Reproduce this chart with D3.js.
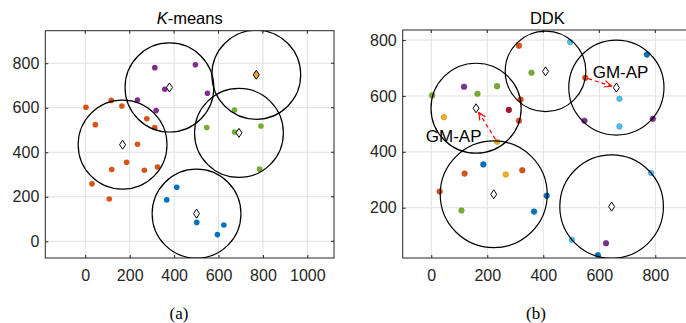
<!DOCTYPE html>
<html>
<head>
<meta charset="utf-8">
<script src="https://cdn.jsdelivr.net/npm/d3@7"></script>
<style>
  body { margin: 0; background: #fff; }
  svg { display: block; font-family: "Liberation Sans", Arial, sans-serif; }
  .grid line { stroke: #e0e0e0; stroke-width: 1; }
  .tick text { fill: #262626; }
</style>
</head>
<body>
<svg id="chart" width="686" height="323"></svg>
<script>
// shared point set (same 30 points in both panels)
const ptsX = [3, 117, 165, 45, 277, 313, 235, 186, 119, 266, 325, 30, 108,
  313, 496, 358, 550, 235, 319, 672, 547, 672, 791, 785, 770, 412, 367, 502, 624, 595];
const ptsY = [602, 633, 608, 524, 550, 511, 436, 355, 322, 319, 334, 258, 190,
  780, 793, 683, 665, 635, 587, 590, 511, 491, 518, 324, 748, 243, 186, 85, 73, 30];

// cluster labels (index into palette)
const kmLabel = [1,1,1,1,1,1,1,1,1,1,1,1,1, 3,3,3,3,3,3, 4,4,4,4,4, 2, 0,0,0,0,0];
const ddkLabel = [4,3,4,2,6,1,2,0,1,2,1,1,4, 1,5,4,1,4,1, 5,3,5,3,5, 0, 0,0,5,3,0];

// K-means centroids
const kmCx = [501, 168, 770, 379, 692];
const kmCy = [124, 434, 748, 691, 487];
const kmR = [200, 200, 200, 200, 200];

// DDK centers and radii
const ddkCx = [160, 408, 661, 223, 644];
const ddkCy = [556, 688, 630, 248, 204];
const ddkR = [161, 144, 170, 191, 185];

// GM-AP arrows: [point index, center index]
const arrows = [[16, 2], [6, 0]];
const arrowLabels = ["GM-AP", "GM-AP"];
const labelX = [676, 80];
const labelY = [663, 436];

const kmXTicks = [0, 200, 400, 600, 800, 1000];
const kmYTicks = [0, 200, 400, 600, 800];
const ddkXTicks = [0, 200, 400, 600, 800];
const ddkYTicks = [200, 400, 600, 800];

const palette = ['#0072BD', '#D95319', '#EDB120', '#7E2F8E', '#77AC30', '#4DBEEE', '#A2142F'];

const svg = d3.select('#chart');
const axisColor = '#262626';

function panel(opts) {
  const x = d3.scaleLinear().domain(opts.xDom).range([opts.left, opts.right]);
  const y = d3.scaleLinear().domain(opts.yDom).range([opts.bottom, opts.top]);
  const g = svg.append('g');

  const clipId = 'clip-' + opts.id;
  svg.append('defs').append('clipPath').attr('id', clipId)
    .append('rect')
    .attr('x', opts.left).attr('y', opts.top)
    .attr('width', opts.right - opts.left).attr('height', opts.bottom - opts.top);

  // grid
  const grid = g.append('g').attr('class', 'grid');
  grid.selectAll('.gx').data(opts.xTicks).enter().append('line')
    .attr('x1', d => x(d)).attr('x2', d => x(d))
    .attr('y1', opts.top).attr('y2', opts.bottom);
  grid.selectAll('.gy').data(opts.yTicks).enter().append('line')
    .attr('y1', d => y(d)).attr('y2', d => y(d))
    .attr('x1', opts.left).attr('x2', opts.right);

  // axes with inward ticks
  const xAxis = g.append('g')
    .attr('transform', 'translate(0,' + opts.bottom + ')')
    .call(d3.axisBottom(x).tickValues(opts.xTicks).tickSize(-3).tickPadding(9).tickFormat(d3.format('d')));
  const yAxis = g.append('g')
    .attr('transform', 'translate(' + opts.left + ',0)')
    .call(d3.axisLeft(y).tickValues(opts.yTicks).tickSize(-3).tickPadding(6).tickFormat(d3.format('d')));
  [xAxis, yAxis].forEach(a => {
    a.select('.domain').remove();
    a.selectAll('.tick line').attr('stroke', axisColor);
    a.selectAll('.tick text').attr('font-family', '"Liberation Sans", Arial, sans-serif').attr('font-size', 16);
  });
  xAxis.selectAll('.tick text').attr('dy', '0.85em');

  // top/right ticks
  g.selectAll('.tt').data(opts.xTicks).enter().append('line')
    .attr('x1', d => x(d)).attr('x2', d => x(d))
    .attr('y1', opts.top).attr('y2', opts.top + 3).attr('stroke', axisColor);
  g.selectAll('.rt').data(opts.yTicks).enter().append('line')
    .attr('y1', d => y(d)).attr('y2', d => y(d))
    .attr('x1', opts.right).attr('x2', opts.right - 3).attr('stroke', axisColor);

  // box
  g.append('rect')
    .attr('x', opts.left).attr('y', opts.top)
    .attr('width', opts.right - opts.left).attr('height', opts.bottom - opts.top)
    .attr('fill', 'none').attr('stroke', axisColor).attr('stroke-width', 1);

  const plot = g.append('g').attr('clip-path', 'url(#' + clipId + ')');

  // title
  const t = g.append('text')
    .attr('x', (opts.left + opts.right) / 2).attr('y', 24)
    .attr('text-anchor', 'middle').attr('font-size', 16.5).attr('fill', '#000');
  opts.title(t);

  // sub caption
  g.append('text')
    .attr('x', opts.capX).attr('y', 319)
    .attr('text-anchor', 'middle')
    .attr('font-family', '"Liberation Serif", "DejaVu Serif", serif')
    .attr('font-size', 17).attr('fill', '#000')
    .text(opts.caption);

  return {x, y, plot, g};
}

function diamond(sel, cx, cy, fill) {
  sel.append('path')
    .attr('d', 'M' + cx + ',' + (cy - 4.5) + 'L' + (cx + 3) + ',' + cy + 'L' + cx + ',' + (cy + 4.5) + 'L' + (cx - 3) + ',' + cy + 'Z')
    .attr('fill', fill).attr('stroke', '#000').attr('stroke-width', 1);
}

// ---- (a) K-means ----
const a = panel({
  id: 'a', xDom: [-180, 1120], yDom: [-75, 946],
  left: 45.3, right: 334, top: 30.7, bottom: 258,
  xTicks: kmXTicks, yTicks: kmYTicks, capX: 179, caption: '(a)',
  title: t => { t.append('tspan').attr('font-style', 'italic').text('K'); t.append('tspan').text('-means'); }
});

a.plot.selectAll('.pt').data(ptsX).enter().append('circle')
  .attr('cx', d => a.x(d)).attr('cy', (d, i) => a.y(ptsY[i]))
  .attr('r', 2.8).attr('fill', (d, i) => palette[kmLabel[i]]);

kmCx.forEach((cx, i) => {
  a.plot.append('ellipse')
    .attr('cx', a.x(cx)).attr('cy', a.y(kmCy[i]))
    .attr('rx', a.x(kmR[i]) - a.x(0)).attr('ry', a.y(0) - a.y(kmR[i]))
    .attr('fill', 'none').attr('stroke', '#000').attr('stroke-width', 1.2);
});
kmCx.forEach((cx, i) => {
  diamond(a.plot, a.x(cx), a.y(kmCy[i]), i === 2 ? palette[2] : '#fff');
});

// ---- (b) DDK ----
const b = panel({
  id: 'b', xDom: [-102, 931], yDom: [20, 836],
  left: 402.7, right: 692, top: 30, bottom: 258,
  xTicks: ddkXTicks, yTicks: ddkYTicks, capX: 536, caption: '(b)',
  title: t => t.text('DDK')
});

b.plot.selectAll('.pt').data(ptsX).enter().append('circle')
  .attr('cx', d => b.x(d)).attr('cy', (d, i) => b.y(ptsY[i]))
  .attr('r', 2.8)
  .attr('fill', (d, i) => palette[ddkLabel[i]])
  .attr('stroke', (d, i) => d3.color(palette[ddkLabel[i]]).darker(0.5))
  .attr('stroke-width', 0.6);

ddkCx.forEach((cx, i) => {
  b.plot.append('ellipse')
    .attr('cx', b.x(cx)).attr('cy', b.y(ddkCy[i]))
    .attr('rx', b.x(ddkR[i]) - b.x(0)).attr('ry', b.y(0) - b.y(ddkR[i]))
    .attr('fill', 'none').attr('stroke', '#000').attr('stroke-width', 1.2);
});
ddkCx.forEach((cx, i) => {
  diamond(b.plot, b.x(cx), b.y(ddkCy[i]), '#fff');
});

// arrows
svg.append('defs').append('marker')
  .attr('id', 'arr').attr('viewBox', '0 0 10 10').attr('refX', 9).attr('refY', 5)
  .attr('markerWidth', 7).attr('markerHeight', 7).attr('orient', 'auto')
  .append('path').attr('d', 'M0,1 L9,5 L0,9').attr('fill', 'none').attr('stroke', '#ff0000').attr('stroke-width', 1.4);

arrows.forEach(([p, c]) => {
  const x1 = b.x(ptsX[p]), y1 = b.y(ptsY[p]);
  const x2 = b.x(ddkCx[c]), y2 = b.y(ddkCy[c]);
  const len = Math.hypot(x2 - x1, y2 - y1);
  const ux = (x2 - x1) / len, uy = (y2 - y1) / len;
  b.g.append('line')
    .attr('x1', x1 + ux * 3).attr('y1', y1 + uy * 3)
    .attr('x2', x2 - ux * 5).attr('y2', y2 - uy * 5)
    .attr('stroke', '#ff0000').attr('stroke-width', 1.2)
    .attr('stroke-dasharray', '4,3')
    .attr('marker-end', 'url(#arr)');
});

arrowLabels.forEach((s, i) => {
  b.g.append('text')
    .attr('x', b.x(labelX[i])).attr('y', b.y(labelY[i]))
    .attr('text-anchor', 'middle').attr('font-size', 17).attr('fill', '#000')
    .text(s);
});
</script>
</body>
</html>
